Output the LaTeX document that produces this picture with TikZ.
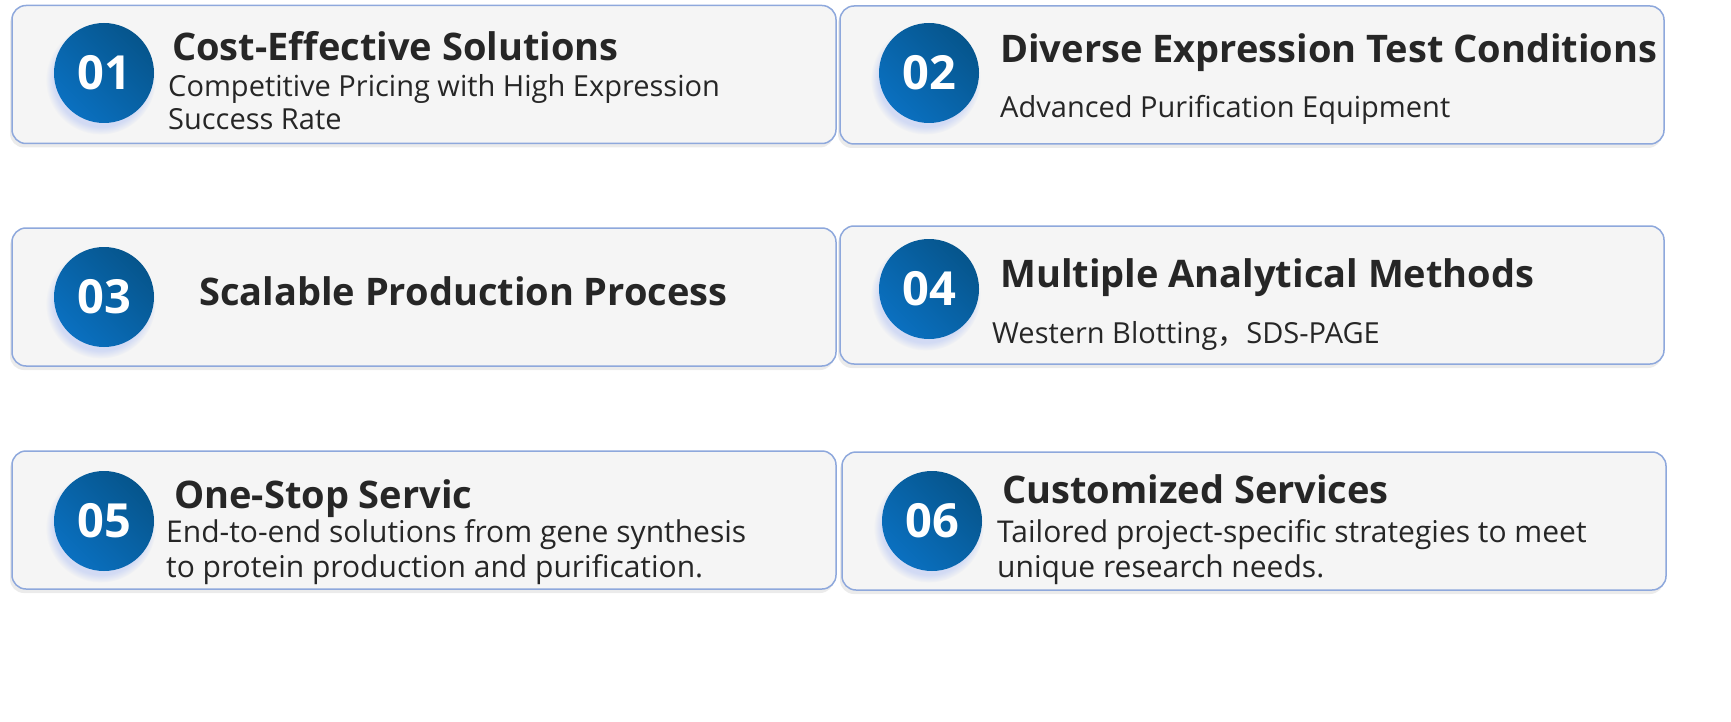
\documentclass[tikz,border=0pt]{standalone}
\usepackage{fontspec}
\setmainfont{Open Sans}
\newfontfamily\cjk{Noto Sans CJK SC}
\usetikzlibrary{shadows, positioning}
\definecolor{cardfill}{HTML}{F5F5F5}
\definecolor{cardline}{HTML}{8EA8DC}
\definecolor{bluedark}{HTML}{06558C}
\definecolor{bluelight}{HTML}{0A70C0}
\definecolor{glowblue}{HTML}{A8BBF4}
\definecolor{ink}{HTML}{262626}

\begin{document}
\begin{tikzpicture}[x=1pt, y=-1pt,
  card/.style   = {draw=cardline, line width=1.5pt, fill=cardfill, rounded corners=14pt,
                   minimum width=824pt, minimum height=138pt,
                   drop shadow={shadow xshift=-2pt, shadow yshift=-4pt, opacity=0.16}},
  badge/.style  = {circle, minimum size=100pt, inner sep=0pt, text=white,
                   font=\fontsize{47}{56}\selectfont\bfseries,
                   top color=bluedark, bottom color=bluelight, shading angle=-45,
                   circular drop shadow={shadow xshift=-3pt, shadow yshift=-6pt, fill=glowblue, opacity=0.45}},
  title/.style  = {anchor=base west, inner sep=0pt, text=ink, font=\fontsize{38}{46}\selectfont\bfseries},
  desc/.style   = {anchor=base west, inner sep=0pt, text=ink, align=left, font=\fontsize{29}{33}\selectfont}]

\useasboundingbox (0,0) rectangle (1731,722);

% the six cards, two columns and three rows
\node[card] (b1) at (424,74.5) {};
\node[card] (b2) at (1252,75) {};
\node[card] (b3) at (424,297) {};
\node[card] (b4) at (1252,295) {};
\node[card] (b5) at (424,520) {};
\node[card] (b6) at (1254,521) {};

% numbered badges
\node[badge] (n1) at (104,73) {01};
\node[badge] (n2) at (929,73) {02};
\node[badge] (n3) at (104,297) {03};
\node[badge] (n4) at (929,289) {04};
\node[badge] (n5) at (104,521) {05};
\node[badge] (n6) at (932,521) {06};

% headings
\node[title] (t1) at (172,61) {Cost-Effective Solutions};
\node[title] (t2) at (1000,63) {Diverse Expression Test Conditions};
\node[title] (t3) at (199,305) {Scalable Production Process};
\node[title] (t4) at (1000,287) {Multiple Analytical Methods};
\node[title] (t5) at (174,508) {One-Stop Servic};
\node[title] (t6) at (1002,503) {Customized Services};

% descriptions (base = last line)
\node[desc] (d1) at (168,130) {Competitive Pricing with High Expression\\Success Rate};
\node[desc] (d2) at (1000,118) {Advanced Purification Equipment};
\node[desc] (d4) at (992,343) {Western Blotting{\cjk ，}SDS-PAGE};
\node[desc, font=\fontsize{30}{35}\selectfont] (d5) at (166,577) {End-to-end solutions from gene synthesis\\to protein production and purification.};
\node[desc, font=\fontsize{30}{35}\selectfont] (d6) at (997,577) {Tailored project-specific strategies to meet\\unique research needs.};

\end{tikzpicture}
\end{document}
